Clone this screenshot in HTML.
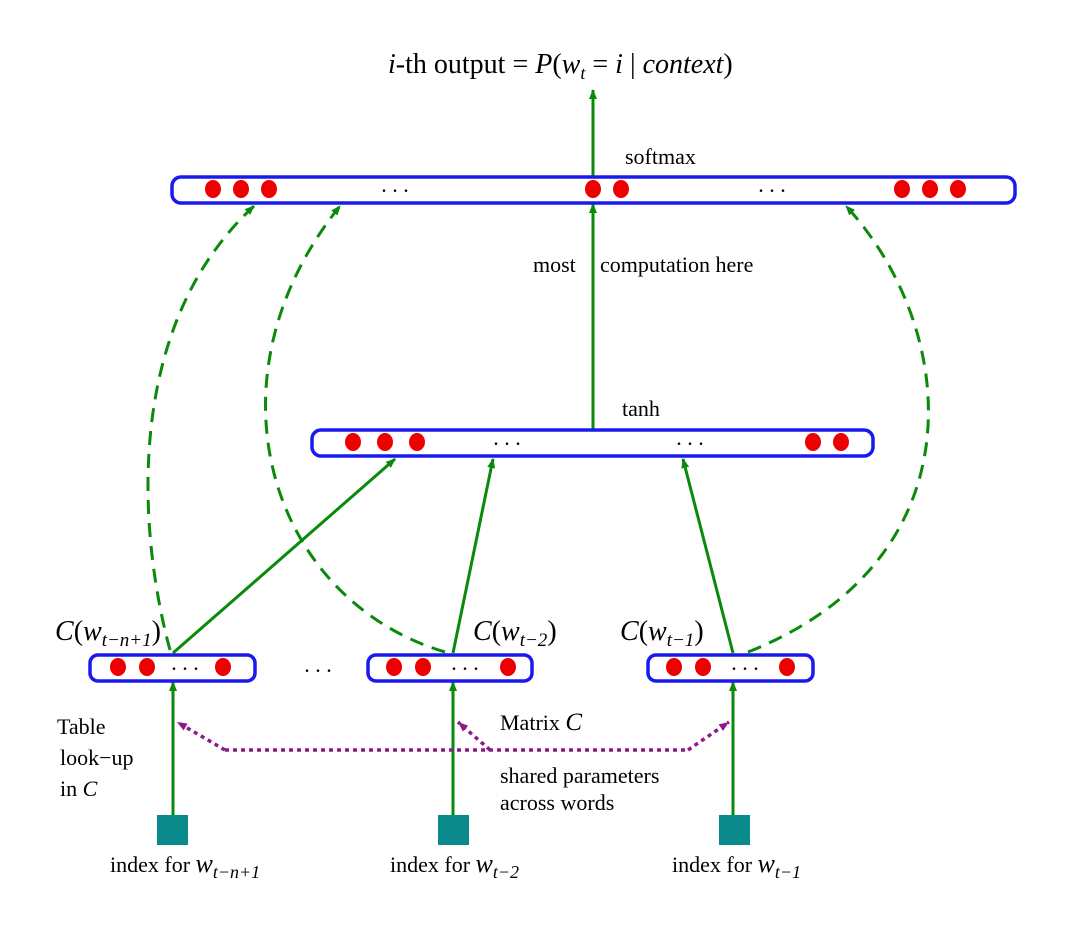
<!DOCTYPE html>
<html><head><meta charset="utf-8"><style>
html,body{margin:0;padding:0;background:#fff;}
svg{display:block;}
text{font-family:"Liberation Serif",serif;fill:#000;}
</style></head><body>
<svg width="1080" height="929" viewBox="0 0 1080 929" xmlns="http://www.w3.org/2000/svg">
<defs>
<marker id="ag" markerWidth="10" markerHeight="10" refX="9" refY="5" orient="auto" markerUnits="userSpaceOnUse"><path d="M0,1 L10,5 L0,9 Z" fill="#0a8a0a"/></marker>
<marker id="ap" markerWidth="12" markerHeight="10" refX="10" refY="5" orient="auto" markerUnits="userSpaceOnUse"><path d="M0,1 L10,5 L0,9 Z" fill="#8b1a8b"/></marker>
</defs>

<!-- title -->
<text x="388" y="73" font-size="28"><tspan font-style="italic">i</tspan>-th output = <tspan font-style="italic">P</tspan>(<tspan font-style="italic">w</tspan><tspan font-style="italic" font-size="18" dy="6">t</tspan><tspan dy="-6"> = </tspan><tspan font-style="italic">i</tspan> | <tspan font-style="italic">context</tspan>)</text>

<g stroke="#0a8a0a" stroke-width="3" fill="none">
<line x1="593" y1="177" x2="593" y2="90" marker-end="url(#ag)"/>
<line x1="593" y1="430" x2="593" y2="204" marker-end="url(#ag)"/>
<line x1="173" y1="653" x2="395" y2="459" marker-end="url(#ag)"/>
<line x1="453" y1="653" x2="493" y2="459" marker-end="url(#ag)"/>
<line x1="733" y1="653" x2="683" y2="459" marker-end="url(#ag)"/>
<line x1="173" y1="815" x2="173" y2="682" marker-end="url(#ag)"/>
<line x1="453" y1="815" x2="453" y2="682" marker-end="url(#ag)"/>
<line x1="733" y1="815" x2="733" y2="682" marker-end="url(#ag)"/>
</g>
<g stroke="#0a8a0a" stroke-width="3" fill="none" stroke-dasharray="14,9">
<path d="M170,650 C140,540 120,330 254,206" marker-end="url(#ag)"/>
<path d="M445,652 C270,600 200,380 340,206" marker-end="url(#ag)"/>
<path d="M748,652 C980,560 960,330 846,206" marker-end="url(#ag)"/>
</g>

<!-- purple dotted -->
<g stroke="#8b1a8b" stroke-width="3.5" fill="none" stroke-dasharray="4,4">
<polyline points="225,750 688,750"/>
<line x1="225" y1="750" x2="177" y2="722" marker-end="url(#ap)"/>
<line x1="688" y1="750" x2="729" y2="722" marker-end="url(#ap)"/>
<line x1="490" y1="750" x2="458" y2="722" marker-end="url(#ap)"/>
</g>

<!-- boxes -->
<g stroke="#1a1aee" stroke-width="3.5" fill="none">
<rect x="172" y="177" width="843" height="26" rx="9"/>
<rect x="312" y="430" width="561" height="26" rx="9"/>
<rect x="90" y="655" width="165" height="26" rx="8"/>
<rect x="368" y="655" width="164" height="26" rx="8"/>
<rect x="648" y="655" width="165" height="26" rx="8"/>
</g>
<g fill="#ee0000">
<ellipse cx="213" cy="189" rx="8" ry="9"/><ellipse cx="241" cy="189" rx="8" ry="9"/><ellipse cx="269" cy="189" rx="8" ry="9"/>
<ellipse cx="593" cy="189" rx="8" ry="9"/><ellipse cx="621" cy="189" rx="8" ry="9"/>
<ellipse cx="902" cy="189" rx="8" ry="9"/><ellipse cx="930" cy="189" rx="8" ry="9"/><ellipse cx="958" cy="189" rx="8" ry="9"/>
<ellipse cx="353" cy="442" rx="8" ry="9"/><ellipse cx="385" cy="442" rx="8" ry="9"/><ellipse cx="417" cy="442" rx="8" ry="9"/>
<ellipse cx="813" cy="442" rx="8" ry="9"/><ellipse cx="841" cy="442" rx="8" ry="9"/>
<ellipse cx="118" cy="667" rx="8" ry="9"/><ellipse cx="147" cy="667" rx="8" ry="9"/><ellipse cx="223" cy="667" rx="8" ry="9"/>
<ellipse cx="394" cy="667" rx="8" ry="9"/><ellipse cx="423" cy="667" rx="8" ry="9"/><ellipse cx="508" cy="667" rx="8" ry="9"/>
<ellipse cx="674" cy="667" rx="8" ry="9"/><ellipse cx="703" cy="667" rx="8" ry="9"/><ellipse cx="787" cy="667" rx="8" ry="9"/>
</g>
<g font-size="22" text-anchor="middle">
<text x="395" y="192">. . .</text><text x="772" y="192">. . .</text>
<text x="507" y="445">. . .</text><text x="690" y="445">. . .</text>
<text x="185" y="670">. . .</text><text x="465" y="670">. . .</text><text x="745" y="670">. . .</text>
<text x="318" y="672">. . .</text>
</g>

<!-- teal squares -->
<g fill="#0a8a8a">
<rect x="157" y="815" width="31" height="30"/>
<rect x="438" y="815" width="31" height="30"/>
<rect x="719" y="815" width="31" height="30"/>
</g>

<g font-size="22">
<text x="625" y="164">softmax</text>
<text x="533" y="272">most</text><text x="600" y="272">computation here</text>
<text x="622" y="416">tanh</text>
<text x="57" y="734">Table</text>
<text x="60" y="765">look−up</text>
<text x="60" y="796">in <tspan font-style="italic">C</tspan></text>
<text x="500" y="730">Matrix <tspan font-style="italic" font-size="25">C</tspan></text>
<text x="500" y="783">shared parameters</text>
<text x="500" y="810">across words</text>
<text x="110" y="872">index for <tspan font-style="italic" font-size="26">w</tspan><tspan font-style="italic" font-size="18" dy="6">t−n+1</tspan></text>
<text x="390" y="872">index for <tspan font-style="italic" font-size="26">w</tspan><tspan font-style="italic" font-size="18" dy="6">t−2</tspan></text>
<text x="672" y="872">index for <tspan font-style="italic" font-size="26">w</tspan><tspan font-style="italic" font-size="18" dy="6">t−1</tspan></text>
</g>
<g font-size="28">
<text x="55" y="640"><tspan font-style="italic">C</tspan>(<tspan font-style="italic">w</tspan><tspan font-style="italic" font-size="19" dy="6">t−n+1</tspan><tspan dy="-6">)</tspan></text>
<text x="473" y="640"><tspan font-style="italic">C</tspan>(<tspan font-style="italic">w</tspan><tspan font-style="italic" font-size="19" dy="6">t−2</tspan><tspan dy="-6">)</tspan></text>
<text x="620" y="640"><tspan font-style="italic">C</tspan>(<tspan font-style="italic">w</tspan><tspan font-style="italic" font-size="19" dy="6">t−1</tspan><tspan dy="-6">)</tspan></text>
</g>
</svg>
</body></html>
